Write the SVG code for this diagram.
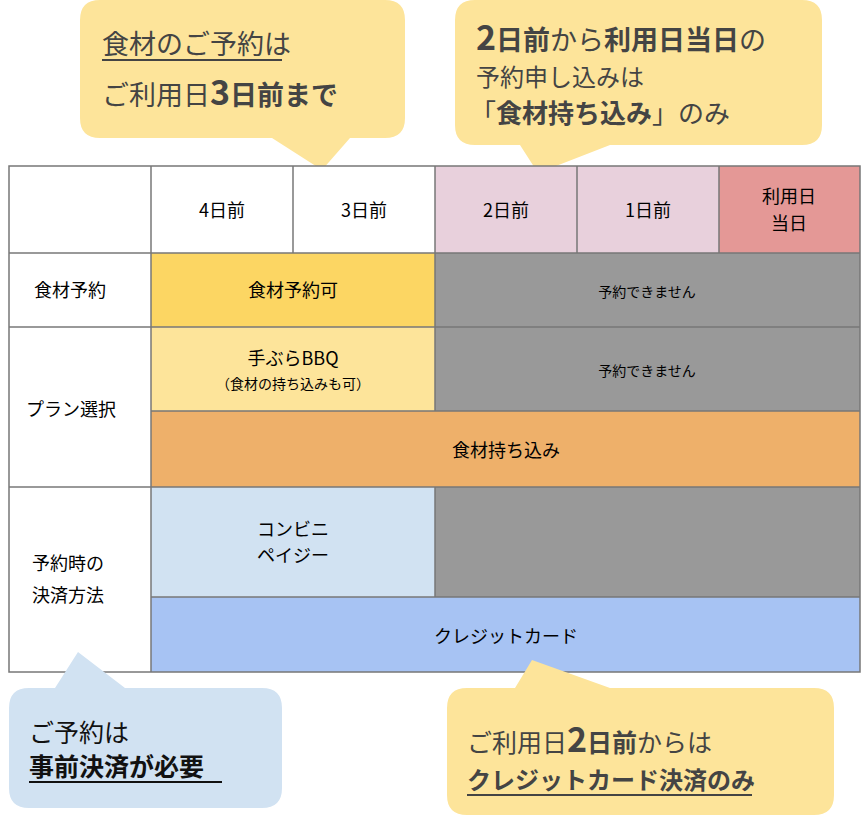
<svg xmlns="http://www.w3.org/2000/svg" width="864" height="823" viewBox="0 0 864 823">
<style>
text{font-family:"Noto Sans CJK JP","Noto Sans",sans-serif;}
.c{fill:#000;font-size:18px;text-anchor:middle}
.s{fill:#000;font-size:14px;text-anchor:middle}
.cl{fill:#444;}
.b{font-weight:bold}
.g{stroke:#777;stroke-width:1.5}
</style>
<g id="callout1"><path d="M100,0 H385 Q405,0 405,20 V118 Q405,138 385,138 H350 L322,170 L272,138 H100 Q80,138 80,118 V20 Q80,0 100,0Z" fill="#fde49a"/>
<text class="cl" x="102" y="54" font-size="27">食材のご予約は</text>
<line x1="102" y1="60" x2="282" y2="60" stroke="#444" stroke-width="2"/>
<text class="cl" x="102" y="105" font-size="27">ご利用日<tspan class="b" font-size="34">3</tspan><tspan class="b">日前まで</tspan></text></g>
<g id="callout2"><path d="M475,0 H802 Q822,0 822,20 V125 Q822,145 802,145 H610 L538,173 L520,145 H475 Q455,145 455,125 V20 Q455,0 475,0Z" fill="#fde49a"/>
<text class="cl" x="476" y="50" font-size="27"><tspan class="b" font-size="34">2</tspan><tspan class="b">日前</tspan>から<tspan class="b">利用日当日</tspan>の</text>
<text class="cl" x="476" y="86" font-size="24">予約申し込みは</text>
<text class="cl" x="470" y="123" font-size="26">「<tspan class="b">食材持ち込み</tspan>」のみ</text></g>
<g id="table">
<rect x="9" y="166" width="851" height="506" fill="#fff"/>
<rect x="435" y="166" width="284" height="87" fill="#e8d0dc"/>
<rect x="719" y="166" width="141" height="87" fill="#e49896"/>
<rect x="151" y="253" width="284" height="74" fill="#fcd663"/>
<rect x="435" y="253" width="425" height="158" fill="#999"/>
<rect x="151" y="327" width="284" height="84" fill="#fde49a"/>
<rect x="151" y="411" width="709" height="76" fill="#eeb06a"/>
<rect x="151" y="487" width="284" height="110" fill="#d1e2f2"/>
<rect x="435" y="487" width="425" height="110" fill="#999"/>
<rect x="151" y="597" width="709" height="75" fill="#a7c3f3"/>
<g class="g" fill="none">
<rect x="9" y="166" width="851" height="506"/>
<line x1="9" y1="253" x2="860" y2="253"/><line x1="9" y1="327" x2="860" y2="327"/>
<line x1="151" y1="411" x2="860" y2="411"/><line x1="9" y1="487" x2="860" y2="487"/>
<line x1="151" y1="597" x2="860" y2="597"/><line x1="151" y1="166" x2="151" y2="672"/>
<line x1="293" y1="166" x2="293" y2="253"/><line x1="435" y1="166" x2="435" y2="411"/>
<line x1="435" y1="487" x2="435" y2="597"/><line x1="577" y1="166" x2="577" y2="253"/>
<line x1="719" y1="166" x2="719" y2="253"/></g>
<text class="c" x="222" y="217">4日前</text><text class="c" x="364" y="217">3日前</text>
<text class="c" x="506" y="217">2日前</text><text class="c" x="648" y="217">1日前</text>
<text class="c" x="789" y="203">利用日</text><text class="c" x="789" y="230">当日</text>
<text class="c" x="70" y="297" font-size="17">食材予約</text>
<text class="c" x="71" y="416" font-size="17">プラン選択</text>
<text class="c" x="68" y="570" font-size="19">予約時の</text><text class="c" x="68" y="602" font-size="19">決済方法</text>
<text class="c" x="293" y="297" font-size="20">食材予約可</text>
<text class="s" x="647" y="297">予約できません</text>
<text class="s" x="647" y="376">予約できません</text>
<text class="c" x="293" y="365" font-size="20">手ぶらBBQ</text>
<text class="s" x="293" y="389" font-size="15">（食材の持ち込みも可）</text>
<text class="c" x="506" y="457" font-size="20">食材持ち込み</text>
<text class="c" x="293" y="536" font-size="20">コンビニ</text><text class="c" x="293" y="562" font-size="20">ペイジー</text>
<text class="c" x="506" y="643" font-size="20">クレジットカード</text>
</g>
<g id="callout3"><path d="M29,688 H55 L78,652 L125,688 H262 Q282,688 282,708 V788 Q282,808 262,808 H29 Q9,808 9,788 V708 Q9,688 29,688Z" fill="#d1e2f2"/>
<text x="29" y="742" font-size="25" fill="#111">ご予約は</text>
<text x="29" y="776" font-size="25" fill="#111" class="b">事前決済が必要</text>
<line x1="29" y1="782" x2="222" y2="782" stroke="#111" stroke-width="2"/></g>
<g id="callout4"><path d="M467,688 H515 L532,660 L610,688 H814 Q834,688 834,708 V795 Q834,815 814,815 H467 Q447,815 447,795 V708 Q447,688 467,688Z" fill="#fde49a"/>
<text class="cl" x="467" y="752" font-size="25">ご利用日<tspan class="b" font-size="34">2</tspan><tspan class="b">日前</tspan>からは</text>
<text class="cl b" x="467" y="789" font-size="24">クレジットカード決済のみ</text>
<line x1="467" y1="795" x2="752" y2="795" stroke="#444" stroke-width="2"/></g>
</svg>
